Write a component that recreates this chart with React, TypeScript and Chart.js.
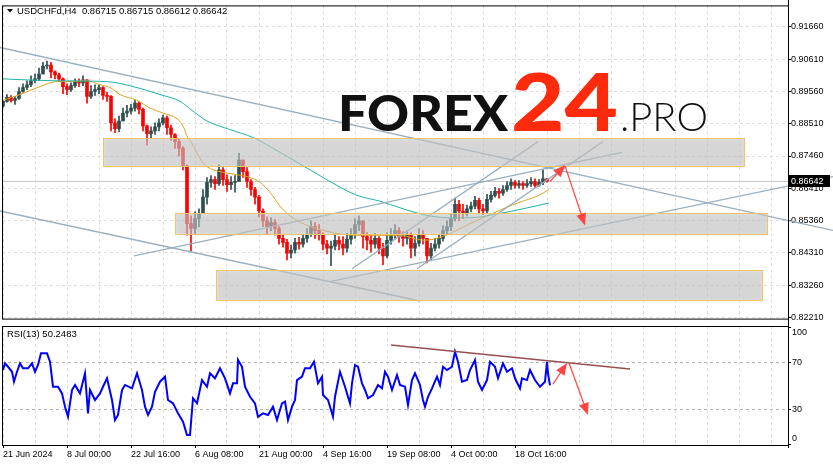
import React, { useEffect, useRef } from 'react';
import { Chart, registerables } from 'chart.js';

Chart.register(...registerables);

// ---------------- data ----------------
const SYMBOL = 'USDCHFd,H4';
const LAST_OHLC = ['0.86715', '0.86715', '0.86612', '0.86642'];
const LAST_PRICE = 0.86642;
const RSI_PERIOD = 13;
const RSI_LAST = 50.2483;
const BARS_PER_CANDLE = 4; // each drawn candle stands for 4 H4 bars
const FIRST_OPEN = 0.8908;

const closes = [
  0.8924, 0.8937, 0.8927, 0.8933, 0.8956, 0.8969, 0.8978, 0.8991, 0.8997, 0.9013,
  0.9039, 0.9042, 0.9020, 0.9010, 0.8997, 0.8972, 0.8962, 0.8975, 0.8988, 0.8984,
  0.8994, 0.8940, 0.8956, 0.8962, 0.8969, 0.8943, 0.8940, 0.8854, 0.8835, 0.8860,
  0.8886, 0.8892, 0.8902, 0.8918, 0.8898, 0.8844, 0.8819, 0.8828, 0.8841, 0.8854,
  0.8870, 0.8838, 0.8816, 0.8793, 0.8771, 0.8714, 0.8526, 0.8510, 0.8542, 0.8558,
  0.8612, 0.8660, 0.8669, 0.8656, 0.8701, 0.8669, 0.8653, 0.8660, 0.8663, 0.8733,
  0.8695, 0.8663, 0.8637, 0.8612, 0.8567, 0.8535, 0.8516, 0.8529, 0.8510, 0.8478,
  0.8465, 0.8430, 0.8440, 0.8465, 0.8459, 0.8478, 0.8491, 0.8516, 0.8503, 0.8491,
  0.8459, 0.8446, 0.8453, 0.8472, 0.8459, 0.8446, 0.8475, 0.8491, 0.8523, 0.8535,
  0.8484, 0.8472, 0.8459, 0.8478, 0.8446, 0.8421, 0.8472, 0.8491, 0.8503, 0.8484,
  0.8478, 0.8491, 0.8446, 0.8462, 0.8491, 0.8478, 0.8421, 0.8446, 0.8459, 0.8478,
  0.8503, 0.8516, 0.8542, 0.8589, 0.8567, 0.8561, 0.8574, 0.8583, 0.8602, 0.8574,
  0.8567, 0.8605, 0.8618, 0.8631, 0.8625, 0.8637, 0.8650, 0.8660, 0.8650, 0.8656,
  0.8650, 0.8656, 0.8663, 0.8650, 0.8660, 0.86715, 0.86642,
];
const highs = [
  0.8927, 0.8946, 0.8943, 0.8940, 0.8969, 0.8981, 0.8991, 0.9007, 0.9013, 0.9032,
  0.9051, 0.9055, 0.9051, 0.9023, 0.9016, 0.9000, 0.8981, 0.8984, 0.8997, 0.8997,
  0.9007, 0.8994, 0.8975, 0.8978, 0.8978, 0.8972, 0.8953, 0.8943, 0.8867, 0.8876,
  0.8902, 0.8911, 0.8914, 0.8927, 0.8924, 0.8902, 0.8847, 0.8841, 0.8854, 0.8867,
  0.8879, 0.8876, 0.8847, 0.8819, 0.8803, 0.8777, 0.8717, 0.8551, 0.8564, 0.8574,
  0.8637, 0.8676, 0.8682, 0.8679, 0.8717, 0.8708, 0.8685, 0.8679, 0.8682, 0.8755,
  0.8733, 0.8708, 0.8669, 0.8644, 0.8618, 0.8574, 0.8548, 0.8545, 0.8539, 0.8516,
  0.8488, 0.8475, 0.8456, 0.8478, 0.8481, 0.8491, 0.8510, 0.8535, 0.8529, 0.8523,
  0.8497, 0.8472, 0.8469, 0.8491, 0.8484, 0.8484, 0.8494, 0.8510, 0.8542, 0.8551,
  0.8535, 0.8497, 0.8491, 0.8494, 0.8484, 0.8462, 0.8497, 0.8510, 0.8523, 0.8513,
  0.8500, 0.8503, 0.8497, 0.8484, 0.8510, 0.8503, 0.8472, 0.8462, 0.8478, 0.8491,
  0.8519, 0.8535, 0.8558, 0.8609, 0.8602, 0.8589, 0.8586, 0.8596, 0.8615, 0.8609,
  0.8589, 0.8621, 0.8631, 0.8644, 0.8641, 0.8650, 0.8663, 0.8672, 0.8666, 0.8666,
  0.8663, 0.8669, 0.8676, 0.8672, 0.8669, 0.8701, 0.86715,
];
const lows = [
  0.8905, 0.8921, 0.8921, 0.8914, 0.8930, 0.8953, 0.8962, 0.8972, 0.8984, 0.8991,
  0.9023, 0.9029, 0.9000, 0.8997, 0.8988, 0.8949, 0.8946, 0.8956, 0.8969, 0.8972,
  0.8975, 0.8918, 0.8933, 0.8943, 0.8949, 0.8930, 0.8924, 0.8828, 0.8822, 0.8825,
  0.8860, 0.8873, 0.8883, 0.8892, 0.8883, 0.8828, 0.8781, 0.8803, 0.8816, 0.8828,
  0.8847, 0.8816, 0.8797, 0.8771, 0.8746, 0.8701, 0.8488, 0.8437, 0.8494, 0.8516,
  0.8558, 0.8589, 0.8644, 0.8637, 0.8650, 0.8650, 0.8631, 0.8637, 0.8628, 0.8663,
  0.8676, 0.8644, 0.8618, 0.8589, 0.8548, 0.8516, 0.8491, 0.8503, 0.8488, 0.8459,
  0.8449, 0.8408, 0.8414, 0.8430, 0.8443, 0.8449, 0.8465, 0.8484, 0.8478, 0.8472,
  0.8440, 0.8427, 0.8389, 0.8440, 0.8440, 0.8424, 0.8433, 0.8459, 0.8478, 0.8503,
  0.8446, 0.8440, 0.8433, 0.8446, 0.8427, 0.8392, 0.8414, 0.8459, 0.8478, 0.8465,
  0.8453, 0.8459, 0.8414, 0.8421, 0.8453, 0.8459, 0.8398, 0.8408, 0.8437, 0.8446,
  0.8469, 0.8491, 0.8503, 0.8535, 0.8535, 0.8542, 0.8551, 0.8564, 0.8574, 0.8558,
  0.8555, 0.8561, 0.8596, 0.8612, 0.8609, 0.8618, 0.8631, 0.8637, 0.8641, 0.8641,
  0.8637, 0.8644, 0.8647, 0.8644, 0.8647, 0.8653, 0.86612,
];

const fastMaBar = [0, 17, 37, 54, 64, 84, 97, 107, 117, 134, 147, 160, 174, 180, 185, 187, 194, 200, 210, 217, 234, 247, 257, 267, 277, 287, 300, 314, 334, 354, 377, 397, 420, 430, 447, 457, 467, 484, 500, 517, 534, 546];
const fastMaValue = [0.8927, 0.8946, 0.8972, 0.8988, 0.8988, 0.8991, 0.8978, 0.8969, 0.8946, 0.8927, 0.8902, 0.8886, 0.8867, 0.8844, 0.8803, 0.8797, 0.8755, 0.8723, 0.8701, 0.8695, 0.8685, 0.8676, 0.8660, 0.8628, 0.8583, 0.8551, 0.8526, 0.8510, 0.8494, 0.8488, 0.8488, 0.8488, 0.8472, 0.8475, 0.8494, 0.8510, 0.8526, 0.8551, 0.8574, 0.8596, 0.8615, 0.8637];
const slowMaBar = [0, 50, 104, 130, 157, 177, 190, 204, 227, 250, 277, 300, 317, 334, 354, 377, 407, 427, 447, 467, 490, 514, 546];
const slowMaValue = [0.8997, 0.8991, 0.8988, 0.8972, 0.8946, 0.8924, 0.8892, 0.8860, 0.8832, 0.8806, 0.8758, 0.8714, 0.8682, 0.8650, 0.8618, 0.8599, 0.8567, 0.8551, 0.8545, 0.8545, 0.8555, 0.8570, 0.8593];

const rsiBar = [
  0, 2, 5, 9, 11, 14, 17, 20, 25, 29, 32, 35, 38, 44, 47, 50, 55, 59, 62, 65,
  69, 72, 77, 82, 85, 87, 92, 97, 100, 104, 109, 112, 115, 119, 122, 129, 134, 139, 142, 145,
  149, 152, 157, 162, 165, 170, 175, 180, 184, 187, 190, 194, 199, 204, 207, 212, 217, 222, 227, 230,
  234, 235, 239, 242, 247, 252, 255, 260, 265, 270, 274, 279, 282, 285, 289, 292, 294, 299, 302, 307,
  311, 315, 319, 320, 325, 330, 332, 337, 342, 347, 349, 352, 355, 359, 362, 365, 370, 375, 379, 382,
  385, 389, 394, 397, 402, 405, 409, 412, 417, 420, 422, 425, 429, 434, 437, 440, 444, 449, 452, 455,
  459, 464, 467, 472, 475, 479, 484, 487, 492, 495, 500, 504, 509, 512, 517, 519, 524, 527, 532, 537,
  542, 544, 545, 547,
];
const rsiValue = [
  63.4, 69.1, 66.2, 61.9, 53.4, 61.9, 69.1, 64.9, 64.9, 69.1, 61.9, 67.7, 77.7, 77.7, 70.5, 49.1, 49.1, 43.4, 32.0, 23.4,
  46.3, 50.6, 43.4, 60.6, 26.3, 46.3, 37.7, 43.4, 49.1, 56.3, 37.7, 20.6, 24.9, 46.3, 50.6, 47.7, 60.6, 46.3, 32.0, 24.9,
  32.0, 44.8, 53.4, 57.7, 37.7, 34.9, 26.3, 19.1, 7.7, 7.7, 39.2, 34.9, 54.8, 49.1, 60.6, 56.3, 64.9, 56.3, 43.4, 52.0,
  52.0, 72.0, 66.2, 49.1, 40.5, 34.9, 23.4, 26.3, 24.9, 32.0, 20.6, 34.9, 36.3, 20.6, 32.0, 37.7, 54.8, 57.7, 64.9, 64.9,
  70.5, 52.0, 57.7, 42.0, 37.7, 23.4, 40.5, 61.9, 49.1, 34.9, 52.0, 67.7, 66.2, 52.0, 46.3, 39.2, 42.0, 50.6, 47.7, 61.9,
  57.7, 46.3, 59.1, 50.6, 49.1, 33.4, 54.8, 60.6, 50.6, 37.7, 32.0, 40.5, 47.7, 57.7, 50.6, 66.2, 63.4, 66.2, 79.1, 70.5,
  53.4, 54.8, 63.4, 72.0, 53.4, 46.3, 54.8, 70.5, 66.2, 56.3, 69.1, 61.9, 64.9, 56.3, 47.7, 56.3, 54.8, 63.4, 54.8, 49.1,
  53.4, 70.5, 60.6, 50.2,
];

const dateLabels = ['21 Jun 2024', '8 Jul 00:00', '22 Jul 16:00', '6 Aug 08:00', '21 Aug 00:00', '4 Sep 16:00', '19 Sep 08:00', '4 Oct 00:00', '18 Oct 16:00'];
const priceTicks = [0.8221, 0.8326, 0.8431, 0.8536, 0.8641, 0.8746, 0.8851, 0.8956, 0.9061, 0.9166];
const rsiTicks = [0, 30, 70, 100];
const rsiLevels = [30, 70];

// drawn objects, in (bar, price) / (bar, rsi) units
const trendLines = [
  { x1: -3, y1: 0.9099, x2: 830, y2: 0.8504 },
  { x1: -3, y1: 0.8567, x2: 417, y2: 0.8274 },
  { x1: 131, y1: 0.8421, x2: 619, y2: 0.8758 },
  { x1: 349, y1: 0.8379, x2: 535, y2: 0.8793 },
  { x1: 414, y1: 0.8379, x2: 600, y2: 0.8793 },
  { x1: 328, y1: 0.8338, x2: 830, y2: 0.8679 },
];
const zones = [
  { x1: 100, x2: 741, top: 0.8803, bottom: 0.8714 },
  { x1: 172, x2: 764, top: 0.8561, bottom: 0.8491 },
  { x1: 213, x2: 759, top: 0.8376, bottom: 0.8277 },
];
const priceArrows = [
  { x1: 547, y1: 0.8663, x2: 562, y2: 0.8717 },
  { x1: 562, y1: 0.8714, x2: 582, y2: 0.8520 },
];
const rsiTrend = { x1: 388, y1: 84.8, x2: 627, y2: 64.3 };
const rsiArrows = [
  { x1: 550, y1: 51.4, x2: 564, y2: 69.4 },
  { x1: 566, y1: 69.4, x2: 585, y2: 24.9 },
];

// axis ranges
const X_MIN = -1;
const X_MAX = 785;
const GRID_STEP = 32;
const PRICE_MIN = 0.82169;
const PRICE_MAX = 0.92361;
const RSI_MIN = -0.8;
const RSI_MAX = 101.1;

// ---------------- helpers ----------------
const FONT = '"Liberation Sans", Arial, sans-serif';
const UP = '#2f4f4f';
const DOWN = '#ff0000';

const opens = closes.map((_, i) => (i === 0 ? FIRST_OPEN : closes[i - 1]));
const candleX = closes.map((_, i) => i * BARS_PER_CANDLE);
const candleColors = closes.map((c, i) => (c >= opens[i] ? UP : DOWN));
const gridBars: number[] = [];
for (let b = 0; b <= X_MAX; b += GRID_STEP) gridBars.push(b);

function drawArrow(ctx: CanvasRenderingContext2D, x1: number, y1: number, x2: number, y2: number) {
  const ang = Math.atan2(y2 - y1, x2 - x1);
  const head = 12;
  const half = 5;
  ctx.save();
  ctx.strokeStyle = 'rgba(255,60,60,0.9)';
  ctx.fillStyle = 'rgba(255,60,60,0.95)';
  ctx.lineWidth = 1.3;
  ctx.beginPath();
  ctx.moveTo(x1, y1);
  ctx.lineTo(x2 - Math.cos(ang) * head * 0.7, y2 - Math.sin(ang) * head * 0.7);
  ctx.stroke();
  ctx.beginPath();
  ctx.moveTo(x2, y2);
  ctx.lineTo(x2 - head * Math.cos(ang) + half * Math.sin(ang), y2 - head * Math.sin(ang) - half * Math.cos(ang));
  ctx.lineTo(x2 - head * Math.cos(ang) - half * Math.sin(ang), y2 - head * Math.sin(ang) + half * Math.cos(ang));
  ctx.closePath();
  ctx.fill();
  ctx.restore();
}

function fitText(ctx: CanvasRenderingContext2D, text: string, font: string, x: number, baseline: number, width: number, color: string) {
  ctx.save();
  ctx.font = font;
  ctx.fillStyle = color;
  ctx.textBaseline = 'alphabetic';
  ctx.textAlign = 'left';
  const w = ctx.measureText(text).width;
  ctx.translate(x, baseline);
  ctx.scale(width / w, 1);
  ctx.fillText(text, 0, 0);
  ctx.restore();
}

const mainOverlay = {
  id: 'mainOverlay',
  beforeDatasetsDraw(chart: any) {
    const { ctx, chartArea: a, scales } = chart;
    const py = Math.round(scales.y.getPixelForValue(LAST_PRICE)) + 0.5;
    ctx.save();
    ctx.strokeStyle = '#c8c8c8';
    ctx.lineWidth = 1;
    ctx.beginPath();
    ctx.moveTo(a.left, py);
    ctx.lineTo(a.right, py);
    ctx.stroke();
    ctx.restore();
  },
  afterDraw(chart: any) {
    const { ctx, chartArea: a, scales } = chart;
    const xs = scales.x;
    const ys = scales.y;
    const X = (v: number) => xs.getPixelForValue(v);
    const Y = (v: number) => ys.getPixelForValue(v);
    ctx.save();
    // trend lines
    ctx.strokeStyle = 'rgba(150,172,188,0.95)';
    ctx.lineWidth = 1.4;
    trendLines.forEach((t) => {
      ctx.beginPath();
      ctx.moveTo(X(t.x1), Y(t.y1));
      ctx.lineTo(X(t.x2), Y(t.y2));
      ctx.stroke();
    });
    // zones
    zones.forEach((z) => {
      const x1 = Math.round(X(z.x1)) + 0.5;
      const x2 = Math.round(X(z.x2)) + 0.5;
      const y1 = Math.round(Y(z.top)) + 0.5;
      const y2 = Math.round(Y(z.bottom)) + 0.5;
      ctx.save();
      ctx.shadowColor = 'rgba(0,0,0,0.18)';
      ctx.shadowBlur = 3;
      ctx.fillStyle = 'rgba(205,205,205,0.6)';
      ctx.fillRect(x1, y1, x2 - x1, y2 - y1);
      ctx.restore();
      ctx.strokeStyle = 'rgb(242,198,100)';
      ctx.lineWidth = 1;
      ctx.strokeRect(x1, y1, x2 - x1, y2 - y1);
    });
    // logo
    fitText(ctx, 'FOREX', '900 50px Lato, "Open Sans", sans-serif', 338, 131, 170, '#111111');
    fitText(ctx, '24', '900 80px Lato, "Open Sans", sans-serif', 511, 131, 107, '#fd2a0b');
    fitText(ctx, '.PRO', '300 40px Lato, "Open Sans", sans-serif', 620, 131, 88, '#111111');
    // arrows
    priceArrows.forEach((r) => drawArrow(ctx, X(r.x1), Y(r.y1), X(r.x2), Y(r.y2)));
    // frame
    ctx.strokeStyle = '#000';
    ctx.lineWidth = 1;
    ctx.strokeRect(a.left + 0.5, a.top + 0.5, a.right - a.left, a.bottom - a.top);
    ctx.beginPath();
    ctx.moveTo(a.right + 0.5, 0);
    ctx.lineTo(a.right + 0.5, chart.height);
    ctx.stroke();
    // header
    ctx.fillStyle = '#000';
    ctx.beginPath();
    ctx.moveTo(7, 9);
    ctx.lineTo(13, 9);
    ctx.lineTo(10, 12.5);
    ctx.closePath();
    ctx.fill();
    ctx.font = '9.5px ' + FONT;
    ctx.textBaseline = 'middle';
    ctx.textAlign = 'left';
    ctx.fillText(SYMBOL + '  ' + LAST_OHLC.join(' '), 17, 11);
    // current price label
    const py = Math.round(Y(LAST_PRICE));
    ctx.fillStyle = '#000';
    ctx.fillRect(a.right + 1, py - 6, 41, 12);
    ctx.fillStyle = '#fff';
    ctx.font = '9px ' + FONT;
    ctx.fillText(LAST_PRICE.toFixed(5), a.right + 3, py + 0.5);
    ctx.restore();
  },
};

const rsiOverlay = {
  id: 'rsiOverlay',
  afterDraw(chart: any) {
    const { ctx, chartArea: a, scales } = chart;
    const X = (v: number) => scales.x.getPixelForValue(v);
    const Y = (v: number) => scales.y.getPixelForValue(v);
    ctx.save();
    ctx.strokeStyle = 'rgb(150,80,80)';
    ctx.lineWidth = 1.4;
    ctx.beginPath();
    ctx.moveTo(X(rsiTrend.x1), Y(rsiTrend.y1));
    ctx.lineTo(X(rsiTrend.x2), Y(rsiTrend.y2));
    ctx.stroke();
    rsiArrows.forEach((r) => drawArrow(ctx, X(r.x1), Y(r.y1), X(r.x2), Y(r.y2)));
    ctx.strokeStyle = '#000';
    ctx.lineWidth = 1;
    ctx.strokeRect(a.left + 0.5, a.top + 0.5, a.right - a.left, a.bottom - a.top);
    ctx.beginPath();
    ctx.moveTo(a.right + 0.5, 0);
    ctx.lineTo(a.right + 0.5, a.bottom + 3);
    ctx.stroke();
    ctx.fillStyle = '#000';
    ctx.font = '9.5px ' + FONT;
    ctx.textBaseline = 'middle';
    ctx.textAlign = 'left';
    ctx.fillText('RSI(' + RSI_PERIOD + ') ' + RSI_LAST.toFixed(4), 7, a.top + 8.5);
    ctx.font = '9px ' + FONT;
    rsiTicks.forEach((v) => {
      const off = v === 100 ? 5 : v === 0 ? -5.5 : 0;
      ctx.fillText(String(v), a.right + 4, Y(v) + off);
    });
    ctx.restore();
  },
};

function mainConfig(): any {
  return {
    type: 'bar',
    data: {
      datasets: [
        {
          type: 'bar',
          label: 'wick',
          data: candleX.map((x, i) => ({ x, y: [Math.min(lows[i], opens[i], closes[i]), Math.max(highs[i], opens[i], closes[i])] })),
          backgroundColor: candleColors,
          barThickness: 1,
          grouped: false,
          order: 3,
        },
        {
          type: 'bar',
          label: 'body',
          data: candleX.map((x, i) => ({ x, y: [opens[i], closes[i]] })),
          backgroundColor: candleColors,
          barThickness: 3,
          minBarLength: 1,
          grouped: false,
          order: 2,
        },
        {
          type: 'line',
          label: 'slow MA',
          data: slowMaBar.map((x, i) => ({ x, y: slowMaValue[i] })),
          borderColor: '#20b2aa',
          borderWidth: 1,
          pointRadius: 0,
          cubicInterpolationMode: 'monotone',
          order: 1,
        },
        {
          type: 'line',
          label: 'fast MA',
          data: fastMaBar.map((x, i) => ({ x, y: fastMaValue[i] })),
          borderColor: '#daa520',
          borderWidth: 1,
          pointRadius: 0,
          cubicInterpolationMode: 'monotone',
          order: 1,
        },
      ],
    },
    options: {
      responsive: false,
      animation: false,
      devicePixelRatio: 1,
      layout: { padding: { left: 2, top: 2, right: 0, bottom: 2 } },
      plugins: { legend: { display: false }, tooltip: { enabled: false } },
      scales: {
        x: {
          type: 'linear',
          min: X_MIN,
          max: X_MAX,
          bounds: 'data',
          offset: false,
          grid: { color: '#dcdcdc', offset: false, drawTicks: false },
          border: { display: false, dash: [3, 3] },
          ticks: { display: false },
          afterBuildTicks: (s: any) => { s.ticks = gridBars.map((v) => ({ value: v })); },
          afterFit: (s: any) => { s.height = 0; },
        },
        y: {
          type: 'linear',
          position: 'right',
          min: PRICE_MIN,
          max: PRICE_MAX,
          bounds: 'data',
          grid: { color: '#dcdcdc', drawTicks: true, tickLength: 3, tickColor: '#000' },
          border: { display: false, dash: [3, 3] },
          ticks: {
            autoSkip: false,
            padding: 0,
            color: '#000',
            font: { family: 'Liberation Sans', size: 9 },
            callback: (v: any) => Number(v).toFixed(5),
          },
          afterBuildTicks: (s: any) => { s.ticks = priceTicks.map((v) => ({ value: v })); },
          afterFit: (s: any) => { s.width = 45; },
        },
      },
    },
    plugins: [mainOverlay],
  };
}

function rsiConfig(): any {
  return {
    type: 'line',
    data: {
      datasets: [
        {
          label: 'RSI',
          data: rsiBar.map((x, i) => ({ x, y: rsiValue[i] })),
          borderColor: '#0000ff',
          borderWidth: 2,
          pointRadius: 0,
          tension: 0,
        },
      ],
    },
    options: {
      responsive: false,
      animation: false,
      devicePixelRatio: 1,
      layout: { padding: { left: 2, top: 2, right: 0, bottom: 0 } },
      plugins: { legend: { display: false }, tooltip: { enabled: false } },
      scales: {
        x: {
          type: 'linear',
          min: X_MIN,
          max: X_MAX,
          bounds: 'data',
          offset: false,
          grid: {
            color: '#dcdcdc',
            offset: false,
            drawTicks: true,
            tickLength: 3,
            tickColor: (c: any) => (c.index % 2 === 0 && c.index / 2 < dateLabels.length ? '#000' : 'rgba(0,0,0,0)'),
          },
          border: { display: false, dash: [3, 3] },
          ticks: {
            autoSkip: false,
            maxRotation: 0,
            align: 'start',
            padding: 1,
            color: '#000',
            font: { family: 'Liberation Sans', size: 9 },
            callback: (_v: any, i: number) => (i % 2 === 0 ? dateLabels[i / 2] ?? '' : ''),
          },
          afterBuildTicks: (s: any) => { s.ticks = gridBars.map((v) => ({ value: v })); },
          afterFit: (s: any) => { s.height = 21; },
        },
        y: {
          type: 'linear',
          position: 'right',
          min: RSI_MIN,
          max: RSI_MAX,
          bounds: 'data',
          grid: {
            color: (c: any) => (c.tick && rsiLevels.includes(c.tick.value) ? '#b4b4b4' : 'rgba(0,0,0,0)'),
            drawTicks: true,
            tickLength: 3,
            tickColor: '#000',
          },
          border: { display: false, dash: [3, 3] },
          ticks: { display: false },
          afterBuildTicks: (s: any) => { s.ticks = rsiTicks.map((v) => ({ value: v })); },
          afterFit: (s: any) => { s.width = 45; },
        },
      },
    },
    plugins: [rsiOverlay],
  };
}

export default function App() {
  const mainRef = useRef<HTMLCanvasElement>(null);
  const rsiRef = useRef<HTMLCanvasElement>(null);
  useEffect(() => {
    document.body.style.margin = '0';
    const main = new Chart(mainRef.current as HTMLCanvasElement, mainConfig());
    const rsi = new Chart(rsiRef.current as HTMLCanvasElement, rsiConfig());
    return () => {
      main.destroy();
      rsi.destroy();
    };
  }, []);
  return (
    <div style={{ position: 'relative', width: 833, height: 466, background: '#fff', overflow: 'hidden' }}>
      <canvas ref={mainRef} width={833} height={324} style={{ position: 'absolute', left: 0, top: 0, width: 833, height: 324 }} />
      <canvas ref={rsiRef} width={833} height={142} style={{ position: 'absolute', left: 0, top: 324, width: 833, height: 142 }} />
    </div>
  );
}
